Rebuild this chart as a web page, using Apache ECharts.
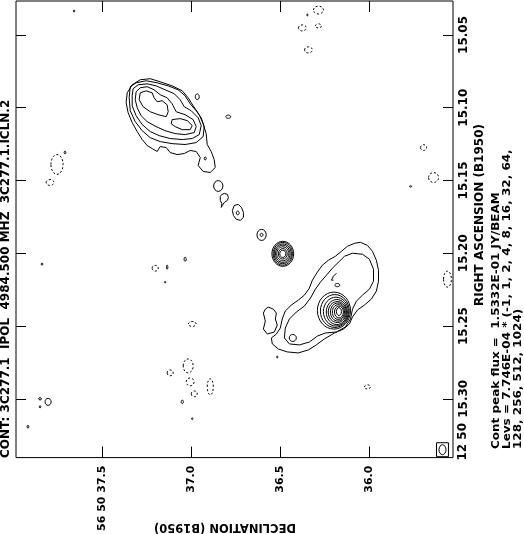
<!DOCTYPE html>
<html><head><meta charset="utf-8">
<script src="https://cdn.jsdelivr.net/npm/echarts@6/dist/echarts.min.js"></script>
<style>html,body{margin:0;padding:0;background:#fff}#c{width:524px;height:534px}</style>
</head><body><div id="c"></div>
<script>
// Axis ranges (Declination arcsec of 56 50, RA seconds of 12 50)
const decMin = 35.531, decMax = 37.983;
const raMin = 15.0267, raMax = 15.3404;
const decTicks = [37.5, 37.0, 36.5, 36.0];
const decLabels = ['56 50 37.5', '37.0', '36.5', '36.0'];
const raTicks = [15.05, 15.10, 15.15, 15.20, 15.25, 15.30];
const raLabels = ['15.05', '15.10', '15.15', '15.20', '15.25', '15.30'];

// Northern lobe contours [dec, ra]
const lobeN_1 = [[37.331,15.0843],[37.286,15.0808],[37.230,15.0801],[37.174,15.0822],[37.107,15.0850],[37.050,15.0884],[37.017,15.0932],[36.989,15.0987],[36.955,15.1048],[36.933,15.1110],[36.916,15.1178],[36.910,15.1253],[36.888,15.1301],[36.871,15.1356],[36.865,15.1411],[36.893,15.1445],[36.933,15.1438],[36.961,15.1397],[36.949,15.1342],[36.972,15.1301],[37.006,15.1294],[37.039,15.1315],[37.079,15.1322],[37.118,15.1308],[37.140,15.1274],[37.174,15.1267],[37.191,15.1301],[37.219,15.1281],[37.247,15.1260],[37.275,15.1219],[37.303,15.1164],[37.331,15.1103],[37.354,15.1034],[37.365,15.0966],[37.359,15.0898]];
const lobeN_2 = [[37.342,15.0856],[37.309,15.0829],[37.253,15.0815],[37.191,15.0829],[37.129,15.0850],[37.073,15.0877],[37.034,15.0918],[37.006,15.0973],[36.972,15.1021],[36.944,15.1069],[36.927,15.1130],[36.933,15.1199],[36.972,15.1240],[37.034,15.1253],[37.107,15.1247],[37.174,15.1233],[37.230,15.1206],[37.275,15.1158],[37.314,15.1096],[37.342,15.1021],[37.348,15.0932]];
const lobeN_3 = [[37.326,15.0870],[37.298,15.0843],[37.247,15.0836],[37.197,15.0850],[37.146,15.0877],[37.095,15.0904],[37.062,15.0945],[37.039,15.0993],[37.000,15.1021],[36.961,15.1069],[36.944,15.1123],[36.955,15.1185],[36.994,15.1212],[37.050,15.1219],[37.118,15.1212],[37.180,15.1192],[37.230,15.1164],[37.275,15.1116],[37.309,15.1055],[37.331,15.0987],[37.331,15.0918]];
const lobeN_4 = [[37.309,15.0891],[37.286,15.0863],[37.247,15.0856],[37.208,15.0877],[37.174,15.0911],[37.135,15.0932],[37.107,15.0973],[37.084,15.1028],[37.034,15.1048],[36.989,15.1082],[36.972,15.1130],[36.983,15.1171],[37.034,15.1185],[37.090,15.1178],[37.146,15.1158],[37.197,15.1130],[37.247,15.1096],[37.281,15.1055],[37.303,15.1000],[37.314,15.0945]];
const lobeN_5 = [[37.107,15.1082],[37.062,15.1075],[37.022,15.1089],[36.994,15.1123],[37.006,15.1151],[37.050,15.1151],[37.090,15.1130],[37.112,15.1110]];
const lobeN_6 = [[37.286,15.0898],[37.253,15.0884],[37.219,15.0898],[37.208,15.0932],[37.191,15.0959],[37.163,15.0952],[37.135,15.0980],[37.129,15.1028],[37.140,15.1062],[37.185,15.1048],[37.230,15.1028],[37.270,15.0993],[37.292,15.0945]];

// Jet knots
const knot2 = [[36.814,15.1589],[36.797,15.1596],[36.791,15.1617],[36.797,15.1637],[36.814,15.1651],[36.825,15.1671],[36.831,15.1685],[36.828,15.1658],[36.837,15.1637],[36.837,15.1610],[36.828,15.1596]];
const knot3 = [[36.758,15.1671],[36.735,15.1665],[36.718,15.1685],[36.707,15.1719],[36.707,15.1754],[36.724,15.1774],[36.747,15.1767],[36.763,15.1740],[36.769,15.1706]];

// Southern lobe contours
const lobeS_1 = [[36.050,15.1925],[36.011,15.1946],[35.983,15.1987],[35.961,15.2048],[35.949,15.2117],[35.949,15.2192],[35.961,15.2260],[35.989,15.2315],[36.028,15.2356],[36.067,15.2390],[36.095,15.2438],[36.112,15.2486],[36.146,15.2521],[36.196,15.2548],[36.253,15.2589],[36.298,15.2630],[36.342,15.2664],[36.399,15.2685],[36.461,15.2678],[36.511,15.2658],[36.545,15.2623],[36.550,15.2582],[36.522,15.2555],[36.500,15.2514],[36.489,15.2452],[36.472,15.2397],[36.438,15.2356],[36.399,15.2322],[36.365,15.2288],[36.337,15.2240],[36.320,15.2185],[36.292,15.2130],[36.264,15.2082],[36.230,15.2048],[36.191,15.2021],[36.157,15.1987],[36.123,15.1952],[36.084,15.1932]];
const lobeS_2 = [[36.140,15.2021],[36.095,15.2000],[36.039,15.2007],[36.000,15.2041],[35.977,15.2110],[35.977,15.2192],[36.000,15.2247],[36.039,15.2288],[36.073,15.2329],[36.095,15.2384],[36.106,15.2452],[36.135,15.2507],[36.185,15.2541],[36.247,15.2548],[36.292,15.2569],[36.337,15.2610],[36.393,15.2630],[36.449,15.2623],[36.477,15.2582],[36.472,15.2514],[36.449,15.2452],[36.410,15.2404],[36.365,15.2363],[36.331,15.2308],[36.303,15.2247],[36.275,15.2199],[36.241,15.2151],[36.208,15.2103],[36.168,15.2055]];
const lobeS_blob = [[36.567,15.2370],[36.539,15.2384],[36.522,15.2411],[36.528,15.2452],[36.517,15.2493],[36.533,15.2541],[36.573,15.2555],[36.595,15.2521],[36.584,15.2466],[36.595,15.2411],[36.584,15.2384]];
const lobeS_hook = [[36.185,15.2137],[36.202,15.2158],[36.213,15.2185],[36.202,15.2185]];

// Ring contours [dec, ra, radiusDec, radiusRa]
const coreRings = [[36.486,15.2004,0.017,0.0025],[36.486,15.2004,0.025,0.0036],[36.486,15.2004,0.034,0.0048],[36.486,15.2004,0.041,0.0059],[36.486,15.2004,0.048,0.0068],[36.486,15.2004,0.054,0.0078],[36.486,15.2004,0.061,0.0086]];
const hotspotRings = [[36.199,15.2394,0.093,0.0127],[36.194,15.2397,0.081,0.0113],[36.188,15.2401,0.070,0.0099],[36.183,15.2404,0.059,0.0086],[36.180,15.2404,0.051,0.0072],[36.177,15.2404,0.042,0.0062],[36.174,15.2404,0.034,0.0051],[36.171,15.2404,0.025,0.0041],[36.171,15.2401,0.014,0.0027]];
const knotRings = [[36.848,15.1538,0.026,0.0037],[36.739,15.1723,0.008,0.0013],[36.605,15.1874,0.026,0.0038],[36.605,15.1874,0.008,0.0011],[36.921,15.1349,0.006,0.0010],[36.966,15.0925,0.011,0.0020],[36.792,15.1062,0.014,0.0011],[36.430,15.2582,0.020,0.0024],[36.180,15.2219,0.014,0.0011]];
const posNoise = [[37.657,15.0336,0.004,0.0007],[37.803,15.3021,0.017,0.0024],[37.848,15.3000,0.008,0.0008],[37.848,15.3055,0.005,0.0007],[37.916,15.3192,0.005,0.0010],[37.837,15.2075,0.005,0.0007],[37.146,15.2199,0.004,0.0005],[37.034,15.2041,0.006,0.0014],[37.050,15.3021,0.006,0.0012],[36.994,15.3137,0.004,0.0006],[37.708,15.1308,0.005,0.0010],[36.348,15.0363,0.004,0.0006],[35.769,15.1541,0.006,0.0005],[36.517,15.2713,0.004,0.0006],[37.135,15.2096,0.004,0.0014]];
const negNoise = [[36.286,15.0329,0.028,0.0027],[36.376,15.0452,0.022,0.0021],[36.286,15.0438,0.017,0.0014],[36.342,15.0603,0.022,0.0021],[37.753,15.1390,0.034,0.0068],[35.696,15.1274,0.017,0.0020],[35.640,15.1480,0.028,0.0034],[35.562,15.2178,0.022,0.0055],[37.202,15.2103,0.017,0.0020],[36.994,15.2486,0.022,0.0017],[37.017,15.2774,0.028,0.0048],[37.006,15.2884,0.022,0.0027],[37.118,15.2822,0.017,0.0020],[36.893,15.2918,0.017,0.0055],[36.983,15.2966,0.017,0.0020],[36.011,15.2918,0.017,0.0014],[37.792,15.1514,0.022,0.0020]];
const beamBox = [[35.590,15.3350,0.067,0.0096]];
const beam = [[35.590,15.3350,0.0197,0.0034]];

const FONT = '"DejaVu Sans", sans-serif';
const closedLines = [lobeN_1, lobeN_2, lobeN_3, lobeN_4, lobeN_5, lobeN_6, knot2, knot3, lobeS_1, lobeS_2, lobeS_blob];
const openLines = [lobeS_hook];

const series = [];
closedLines.forEach(p => series.push({type:'line', data: p.concat([p[0]]), symbol:'none', silent:true, clip:true, lineStyle:{color:'#000', width:1}}));
openLines.forEach(p => series.push({type:'line', data: p, symbol:'none', silent:true, clip:true, lineStyle:{color:'#000', width:1}}));

function ellipses(data, dashed) {
  return {type:'custom', data: data, clip:true, silent:true,
    renderItem: function (params, api) {
      const c = api.coord([api.value(0), api.value(1)]);
      const s = api.size([api.value(2), api.value(3)]);
      return {type:'ellipse', shape:{cx:c[0], cy:c[1], rx:Math.max(s[0],0.6), ry:Math.max(s[1],0.6)},
        style:{fill:'none', stroke:'#000', lineWidth:1, lineDash: dashed ? [2,2] : null}};
    }};
}
series.push(ellipses(coreRings, false));
series.push(ellipses(hotspotRings, false));
series.push(ellipses(knotRings, false));
series.push(ellipses(posNoise, false));
series.push(ellipses(negNoise, true));
series.push(ellipses(beam, false));
series.push({type:'custom', data: beamBox, clip:false, silent:true,
  renderItem: function (params, api) {
    const c = api.coord([api.value(0), api.value(1)]);
    const s = api.size([api.value(2), api.value(3)]);
    return {type:'rect', shape:{x:c[0]-s[0]/2, y:c[1]-s[1]/2, width:s[0], height:s[1]}, style:{fill:'none', stroke:'#000', lineWidth:1}};
  }});

const labStyle = {color:'#000', fontFamily: FONT, fontWeight:'bold', fontSize:11};
function txt(x, y, rot, text, align, size, sy) {
  return {type:'text', x:x, y:y, rotation:rot, scaleY: sy || 1,
    style:{text:text, font:'bold ' + size + 'px ' + FONT, fill:'#000', align:align, verticalAlign:'middle'}};
}
const chart = echarts.init(document.getElementById('c'), null, {renderer:'canvas'});
chart.setOption({
  animation:false,
  backgroundColor:'#fff',
  grid:{left:16, right:71, top:1, bottom:75, show:true, borderColor:'#000', borderWidth:1, backgroundColor:'transparent'},
  xAxis:[
    {type:'value', min:decMin, max:decMax, inverse:true, position:'bottom',
     axisLine:{show:false, onZero:false}, splitLine:{show:false},
     axisTick:{show:true, inside:true, length:11, customValues:decTicks, lineStyle:{color:'#000'}},
     axisLabel:Object.assign({customValues:decTicks, rotate:90, margin:8,
       formatter: v => decLabels[decTicks.findIndex(t => Math.abs(t - v) < 1e-6)]}, labStyle)},
    {type:'value', min:decMin, max:decMax, inverse:true, position:'top',
     axisLine:{show:false, onZero:false}, splitLine:{show:false},
     axisTick:{show:true, inside:true, length:11, customValues:decTicks, lineStyle:{color:'#000'}},
     axisLabel:{show:false}}
  ],
  yAxis:[
    {type:'value', min:raMin, max:raMax, inverse:true, position:'right',
     axisLine:{show:false, onZero:false}, splitLine:{show:false},
     axisTick:{show:true, inside:true, length:10, customValues:raTicks, lineStyle:{color:'#000'}},
     axisLabel:Object.assign({customValues:raTicks, rotate:90, margin:5,
       formatter: v => raLabels[raTicks.findIndex(t => Math.abs(t - v) < 1e-6)]}, labStyle, {fontSize:12})},
    {type:'value', min:raMin, max:raMax, inverse:true, position:'left',
     axisLine:{show:false, onZero:false}, splitLine:{show:false},
     axisTick:{show:true, inside:true, length:10, customValues:raTicks, lineStyle:{color:'#000'}},
     axisLabel:{show:false}}
  ],
  graphic:[
    txt(6, 458, Math.PI/2, 'CONT: 3C277.1  IPOL  4984.500 MHZ  3C277.1.ICLN.2', 'left', 12),
    txt(480, 215, Math.PI/2, 'RIGHT ASCENSION (B1950)', 'center', 12),
    txt(463, 423, Math.PI/2, '12 50', 'right', 12),
    txt(496, 449, Math.PI/2, 'Cont peak flux =  1.5332E-01 JY/BEAM', 'left', 12, 0.8),
    txt(507, 449, Math.PI/2, 'Levs = 7.746E-04 * (-1, 1, 2, 4, 8, 16, 32, 64,', 'left', 12, 0.8),
    txt(518, 449, Math.PI/2, '128, 256, 512, 1024)', 'left', 12, 0.8),
    txt(225, 527, Math.PI, 'DECLINATION (B1950)', 'center', 11.5)
  ],
  series: series
});
</script></body></html>
